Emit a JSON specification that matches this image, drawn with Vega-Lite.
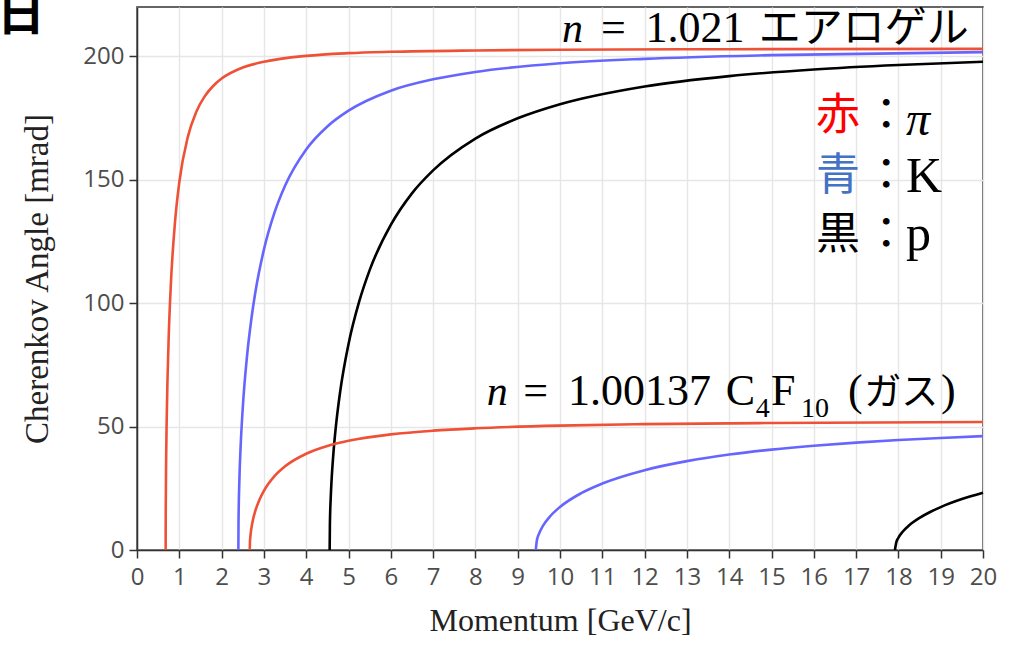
{
  "$schema": "https://vega.github.io/schema/vega-lite/v6.json",
  "width": 846,
  "height": 543,
  "autosize": {"type": "none"},
  "padding": {"left": 137, "top": 7, "right": 33, "bottom": 96},
  "background": "white",
  "config": {
    "view": {"stroke": "#333333", "strokeWidth": 1.5},
    "axis": {
      "labelFont": "Open Sans",
      "labelFontSize": 24,
      "labelColor": "#4d4d4d",
      "labelFlush": false,
      "labelOverlap": false,
      "tickColor": "#333333",
      "tickSize": 8,
      "tickWidth": 1.5,
      "domainColor": "#333333",
      "domainWidth": 1.5,
      "gridColor": "#e6e6e6",
      "gridWidth": 1.4,
      "titleFont": "Liberation Serif",
      "titleFontWeight": "normal",
      "titleColor": "#222222"
    }
  },
  "resolve": {"scale": {"color": "independent"}},
  "datasets": {
    "curves": [
      {"p": 0.6775, "a": 0, "s": "aerogel-pi", "q": "pi"},
      {"p": 0.678, "a": 7.8, "s": "aerogel-pi", "q": "pi"},
      {"p": 0.68, "a": 17.3, "s": "aerogel-pi", "q": "pi"},
      {"p": 0.69, "a": 38.3, "s": "aerogel-pi", "q": "pi"},
      {"p": 0.70, "a": 50.8, "s": "aerogel-pi", "q": "pi"},
      {"p": 0.72, "a": 68.4, "s": "aerogel-pi", "q": "pi"},
      {"p": 0.75, "a": 86.7, "s": "aerogel-pi", "q": "pi"},
      {"p": 0.8, "a": 107.5, "s": "aerogel-pi", "q": "pi"},
      {"p": 0.9, "a": 133.2, "s": "aerogel-pi", "q": "pi"},
      {"p": 1.0, "a": 149.0, "s": "aerogel-pi", "q": "pi"},
      {"p": 1.2, "a": 167.3, "s": "aerogel-pi", "q": "pi"},
      {"p": 1.4, "a": 177.5, "s": "aerogel-pi", "q": "pi"},
      {"p": 1.6, "a": 183.8, "s": "aerogel-pi", "q": "pi"},
      {"p": 1.8, "a": 188.0, "s": "aerogel-pi", "q": "pi"},
      {"p": 2.0, "a": 191.0, "s": "aerogel-pi", "q": "pi"},
      {"p": 2.5, "a": 195.5, "s": "aerogel-pi", "q": "pi"},
      {"p": 3.0, "a": 197.8, "s": "aerogel-pi", "q": "pi"},
      {"p": 4.0, "a": 200.2, "s": "aerogel-pi", "q": "pi"},
      {"p": 5.0, "a": 201.3, "s": "aerogel-pi", "q": "pi"},
      {"p": 6.0, "a": 201.85, "s": "aerogel-pi", "q": "pi"},
      {"p": 8.0, "a": 202.4, "s": "aerogel-pi", "q": "pi"},
      {"p": 10.0, "a": 202.7, "s": "aerogel-pi", "q": "pi"},
      {"p": 14.0, "a": 202.9, "s": "aerogel-pi", "q": "pi"},
      {"p": 20.0, "a": 203.05, "s": "aerogel-pi", "q": "pi"},

      {"p": 2.3964, "a": 0, "s": "aerogel-K", "q": "K"},
      {"p": 2.40, "a": 11.1, "s": "aerogel-K", "q": "K"},
      {"p": 2.42, "a": 28.1, "s": "aerogel-K", "q": "K"},
      {"p": 2.45, "a": 42.0, "s": "aerogel-K", "q": "K"},
      {"p": 2.5, "a": 57.5, "s": "aerogel-K", "q": "K"},
      {"p": 2.6, "a": 78.4, "s": "aerogel-K", "q": "K"},
      {"p": 2.7, "a": 93.1, "s": "aerogel-K", "q": "K"},
      {"p": 2.8, "a": 104.6, "s": "aerogel-K", "q": "K"},
      {"p": 3.0, "a": 121.7, "s": "aerogel-K", "q": "K"},
      {"p": 3.25, "a": 136.7, "s": "aerogel-K", "q": "K"},
      {"p": 3.5, "a": 147.6, "s": "aerogel-K", "q": "K"},
      {"p": 4.0, "a": 162.3, "s": "aerogel-K", "q": "K"},
      {"p": 4.5, "a": 171.6, "s": "aerogel-K", "q": "K"},
      {"p": 5.0, "a": 178.0, "s": "aerogel-K", "q": "K"},
      {"p": 6.0, "a": 186.1, "s": "aerogel-K", "q": "K"},
      {"p": 7.0, "a": 190.7, "s": "aerogel-K", "q": "K"},
      {"p": 8.0, "a": 193.7, "s": "aerogel-K", "q": "K"},
      {"p": 10.0, "a": 197.2, "s": "aerogel-K", "q": "K"},
      {"p": 12.0, "a": 199.0, "s": "aerogel-K", "q": "K"},
      {"p": 15.0, "a": 200.5, "s": "aerogel-K", "q": "K"},
      {"p": 20.0, "a": 201.7, "s": "aerogel-K", "q": "K"},

      {"p": 4.5545, "a": 0, "s": "aerogel-p", "q": "p"},
      {"p": 4.56, "a": 10.0, "s": "aerogel-p", "q": "p"},
      {"p": 4.58, "a": 21.3, "s": "aerogel-p", "q": "p"},
      {"p": 4.6, "a": 28.3, "s": "aerogel-p", "q": "p"},
      {"p": 4.65, "a": 40.7, "s": "aerogel-p", "q": "p"},
      {"p": 4.7, "a": 49.8, "s": "aerogel-p", "q": "p"},
      {"p": 4.8, "a": 63.8, "s": "aerogel-p", "q": "p"},
      {"p": 5.0, "a": 83.4, "s": "aerogel-p", "q": "p"},
      {"p": 5.25, "a": 100.5, "s": "aerogel-p", "q": "p"},
      {"p": 5.5, "a": 113.4, "s": "aerogel-p", "q": "p"},
      {"p": 6.0, "a": 131.7, "s": "aerogel-p", "q": "p"},
      {"p": 6.5, "a": 144.5, "s": "aerogel-p", "q": "p"},
      {"p": 7.0, "a": 153.8, "s": "aerogel-p", "q": "p"},
      {"p": 8.0, "a": 166.7, "s": "aerogel-p", "q": "p"},
      {"p": 9.0, "a": 174.9, "s": "aerogel-p", "q": "p"},
      {"p": 10.0, "a": 180.6, "s": "aerogel-p", "q": "p"},
      {"p": 12.0, "a": 187.8, "s": "aerogel-p", "q": "p"},
      {"p": 14.0, "a": 192.0, "s": "aerogel-p", "q": "p"},
      {"p": 16.0, "a": 194.7, "s": "aerogel-p", "q": "p"},
      {"p": 18.0, "a": 196.5, "s": "aerogel-p", "q": "p"},
      {"p": 20.0, "a": 197.8, "s": "aerogel-p", "q": "p"},

      {"p": 2.6654, "a": 0, "s": "gas-pi", "q": "pi"},
      {"p": 2.67, "a": 3.06, "s": "gas-pi", "q": "pi"},
      {"p": 2.68, "a": 5.44, "s": "gas-pi", "q": "pi"},
      {"p": 2.7, "a": 8.34, "s": "gas-pi", "q": "pi"},
      {"p": 2.75, "a": 12.87, "s": "gas-pi", "q": "pi"},
      {"p": 2.8, "a": 16.02, "s": "gas-pi", "q": "pi"},
      {"p": 2.9, "a": 20.6, "s": "gas-pi", "q": "pi"},
      {"p": 3.0, "a": 24.0, "s": "gas-pi", "q": "pi"},
      {"p": 3.25, "a": 29.92, "s": "gas-pi", "q": "pi"},
      {"p": 3.5, "a": 33.89, "s": "gas-pi", "q": "pi"},
      {"p": 4.0, "a": 38.99, "s": "gas-pi", "q": "pi"},
      {"p": 4.5, "a": 42.13, "s": "gas-pi", "q": "pi"},
      {"p": 5.0, "a": 44.24, "s": "gas-pi", "q": "pi"},
      {"p": 6.0, "a": 46.85, "s": "gas-pi", "q": "pi"},
      {"p": 7.0, "a": 48.35, "s": "gas-pi", "q": "pi"},
      {"p": 8.0, "a": 49.3, "s": "gas-pi", "q": "pi"},
      {"p": 10.0, "a": 50.4, "s": "gas-pi", "q": "pi"},
      {"p": 12.0, "a": 50.98, "s": "gas-pi", "q": "pi"},
      {"p": 15.0, "a": 51.46, "s": "gas-pi", "q": "pi"},
      {"p": 20.0, "a": 51.83, "s": "gas-pi", "q": "pi"},

      {"p": 9.428, "a": 0, "s": "gas-K", "q": "K"},
      {"p": 9.45, "a": 3.57, "s": "gas-K", "q": "K"},
      {"p": 9.5, "a": 6.43, "s": "gas-K", "q": "K"},
      {"p": 9.6, "a": 9.86, "s": "gas-K", "q": "K"},
      {"p": 9.75, "a": 13.33, "s": "gas-K", "q": "K"},
      {"p": 10.0, "a": 17.43, "s": "gas-K", "q": "K"},
      {"p": 10.5, "a": 23.02, "s": "gas-K", "q": "K"},
      {"p": 11.0, "a": 26.94, "s": "gas-K", "q": "K"},
      {"p": 12.0, "a": 32.35, "s": "gas-K", "q": "K"},
      {"p": 13.0, "a": 36.0, "s": "gas-K", "q": "K"},
      {"p": 14.0, "a": 38.66, "s": "gas-K", "q": "K"},
      {"p": 15.0, "a": 40.67, "s": "gas-K", "q": "K"},
      {"p": 16.0, "a": 42.25, "s": "gas-K", "q": "K"},
      {"p": 17.0, "a": 43.51, "s": "gas-K", "q": "K"},
      {"p": 18.0, "a": 44.55, "s": "gas-K", "q": "K"},
      {"p": 19.0, "a": 45.4, "s": "gas-K", "q": "K"},
      {"p": 20.0, "a": 46.12, "s": "gas-K", "q": "K"},

      {"p": 17.918, "a": 0, "s": "gas-p", "q": "p"},
      {"p": 17.95, "a": 3.09, "s": "gas-p", "q": "p"},
      {"p": 18.0, "a": 4.97, "s": "gas-p", "q": "p"},
      {"p": 18.1, "a": 7.39, "s": "gas-p", "q": "p"},
      {"p": 18.25, "a": 9.92, "s": "gas-p", "q": "p"},
      {"p": 18.5, "a": 13.01, "s": "gas-p", "q": "p"},
      {"p": 18.75, "a": 15.4, "s": "gas-p", "q": "p"},
      {"p": 19.0, "a": 17.39, "s": "gas-p", "q": "p"},
      {"p": 19.5, "a": 20.63, "s": "gas-p", "q": "p"},
      {"p": 20.0, "a": 23.23, "s": "gas-p", "q": "p"}
    ]
  },
  "layer": [
    {
      "data": {"name": "curves"},
      "mark": {"type": "line", "strokeWidth": 2.6, "interpolate": "monotone"},
      "encoding": {
        "x": {
          "field": "p", "type": "quantitative",
          "scale": {"domain": [0, 20], "nice": false, "zero": false},
          "axis": {
            "values": [0,1,2,3,4,5,6,7,8,9,10,11,12,13,14,15,16,17,18,19,20],
            "title": "Momentum [GeV/c]",
            "titleFontSize": 32,
            "titlePadding": 16,
            "labelPadding": 7
          }
        },
        "y": {
          "field": "a", "type": "quantitative",
          "scale": {"domain": [0, 220], "nice": false},
          "axis": {
            "values": [0, 50, 100, 150, 200],
            "title": "Cherenkov Angle [mrad]",
            "titleFontSize": 33,
            "titlePadding": 28,
            "labelPadding": 5
          }
        },
        "detail": {"field": "s"},
        "color": {
          "field": "q", "type": "nominal",
          "scale": {"domain": ["pi", "K", "p"], "range": ["#ef5136", "#6666ff", "#000000"]},
          "legend": null
        }
      }
    },
    {
      "data": {"values": [
        {"x": 10.05, "y": 205.8, "t": "n"},
        {"x": 8.27, "y": 58.75, "t": "n"}
      ]},
      "mark": {"type": "text", "font": "Liberation Serif", "fontStyle": "italic", "fontSize": 42, "align": "left", "baseline": "alphabetic", "color": "#000000"},
      "encoding": {
        "x": {"field": "x", "type": "quantitative"},
        "y": {"field": "y", "type": "quantitative"},
        "text": {"field": "t"}
      }
    },
    {
      "data": {"values": [
        {"x": 10.97, "y": 205.8, "t": "="},
        {"x": 12.02, "y": 205.8, "t": "1.021"},
        {"x": 9.13, "y": 58.75, "t": "="},
        {"x": 10.19, "y": 58.75, "t": "1.00137"},
        {"x": 13.92, "y": 58.75, "t": "C"},
        {"x": 14.99, "y": 58.75, "t": "F"},
        {"x": 16.81, "y": 58.75, "t": "("},
        {"x": 19.01, "y": 58.75, "t": ")"}
      ]},
      "mark": {"type": "text", "font": "Liberation Serif", "fontSize": 44, "align": "left", "baseline": "alphabetic", "color": "#000000"},
      "encoding": {
        "x": {"field": "x", "type": "quantitative"},
        "y": {"field": "y", "type": "quantitative"},
        "text": {"field": "t"}
      }
    },
    {
      "data": {"values": [
        {"x": 14.63, "y": 53.9, "t": "4"},
        {"x": 15.70, "y": 53.9, "t": "10"}
      ]},
      "mark": {"type": "text", "font": "Liberation Serif", "fontSize": 28, "align": "left", "baseline": "alphabetic", "color": "#000000"},
      "encoding": {
        "x": {"field": "x", "type": "quantitative"},
        "y": {"field": "y", "type": "quantitative"},
        "text": {"field": "t"}
      }
    },
    {
      "data": {"values": [
        {"x": 14.70, "y": 205.8, "t": "エアロゲル"}
      ]},
      "mark": {"type": "text", "font": "Noto Sans CJK JP", "fontSize": 42, "align": "left", "baseline": "alphabetic", "color": "#000000"},
      "encoding": {
        "x": {"field": "x", "type": "quantitative"},
        "y": {"field": "y", "type": "quantitative"},
        "text": {"field": "t"}
      }
    },
    {
      "data": {"values": [
        {"x": 17.19, "y": 58.75, "t": "ガス"}
      ]},
      "mark": {"type": "text", "font": "Noto Sans CJK JP", "fontSize": 37, "align": "left", "baseline": "alphabetic", "color": "#000000"},
      "encoding": {
        "x": {"field": "x", "type": "quantitative"},
        "y": {"field": "y", "type": "quantitative"},
        "text": {"field": "t"}
      }
    },
    {
      "data": {"values": [
        {"x": 16.05, "y": 170.2, "t": "赤"},
        {"x": 16.05, "y": 145.9, "t": "青"},
        {"x": 16.05, "y": 122.0, "t": "黒"}
      ]},
      "mark": {"type": "text", "font": "Noto Sans CJK JP", "fontSize": 44, "align": "left", "baseline": "alphabetic"},
      "encoding": {
        "x": {"field": "x", "type": "quantitative"},
        "y": {"field": "y", "type": "quantitative"},
        "text": {"field": "t"},
        "color": {
          "field": "t", "type": "nominal",
          "scale": {"domain": ["赤", "青", "黒"], "range": ["#ff0000", "#4472c4", "#000000"]},
          "legend": null
        }
      }
    },
    {
      "data": {"values": [
        {"x": 17.71, "y": 170.2, "t": "："},
        {"x": 17.71, "y": 145.9, "t": "："},
        {"x": 17.71, "y": 122.0, "t": "："}
      ]},
      "mark": {"type": "text", "font": "Noto Sans CJK JP", "fontSize": 44, "align": "center", "baseline": "alphabetic", "color": "#000000"},
      "encoding": {
        "x": {"field": "x", "type": "quantitative"},
        "y": {"field": "y", "type": "quantitative"},
        "text": {"field": "t"}
      }
    },
    {
      "data": {"values": [
        {"x": 18.18, "y": 168.1, "t": "π"}
      ]},
      "mark": {"type": "text", "font": "Liberation Serif", "fontStyle": "italic", "fontSize": 48, "align": "left", "baseline": "alphabetic", "color": "#000000"},
      "encoding": {
        "x": {"field": "x", "type": "quantitative"},
        "y": {"field": "y", "type": "quantitative"},
        "text": {"field": "t"}
      }
    },
    {
      "data": {"values": [
        {"x": 18.18, "y": 145.0, "t": "K"},
        {"x": 18.18, "y": 121.5, "t": "p"}
      ]},
      "mark": {"type": "text", "font": "Liberation Serif", "fontSize": 50, "align": "left", "baseline": "alphabetic", "color": "#000000"},
      "encoding": {
        "x": {"field": "x", "type": "quantitative"},
        "y": {"field": "y", "type": "quantitative"},
        "text": {"field": "t"}
      }
    },
    {
      "data": {"values": [
        {"x": -3.31, "y": 210.7, "t": "日"}
      ]},
      "mark": {"type": "text", "font": "Noto Sans CJK JP", "fontWeight": "bold", "fontSize": 48, "align": "left", "baseline": "alphabetic", "color": "#000000", "clip": false},
      "encoding": {
        "x": {"field": "x", "type": "quantitative"},
        "y": {"field": "y", "type": "quantitative"},
        "text": {"field": "t"}
      }
    }
  ]
}
